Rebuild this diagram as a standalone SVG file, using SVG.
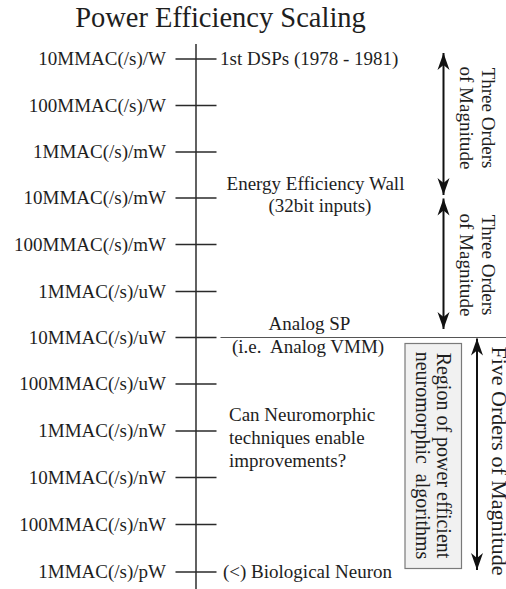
<svg xmlns="http://www.w3.org/2000/svg" width="506" height="589" viewBox="0 0 506 589">
<style>
text{font-family:"Liberation Serif","Times New Roman",serif;fill:#1e1e1e;font-size:19px}
.lab{text-anchor:end}
.tick{stroke:#2a2a2a;stroke-width:1.4}
.ax{stroke:#3a3a3a;stroke-width:1.6}
.arr{stroke:#111;stroke-width:2;marker-start:url(#ah);marker-end:url(#ah)}
</style>
<defs>
<marker id="ah" markerUnits="userSpaceOnUse" markerWidth="18" markerHeight="13" refX="17" refY="6.5" orient="auto-start-reverse">
<path d="M0,0.5 L17,6.5 L0,12.5 L5,6.5 Z" fill="#111"/>
</marker>
</defs>
<rect width="506" height="589" fill="#fff"/>
<text id="title" x="220.5" y="27" style="font-size:28.5px;text-anchor:middle">Power Efficiency Scaling</text>

<g id="connectors">
<line class="ax" x1="196" y1="44" x2="196" y2="589"/>
<line x1="220.5" y1="337.5" x2="506" y2="337.5" stroke="#555" stroke-width="1.1"/>
<line class="arr" x1="443.5" y1="53" x2="443.5" y2="195"/>
<line class="arr" x1="443.5" y1="198.5" x2="443.5" y2="329"/>
<line class="arr" x1="477" y1="338.5" x2="477" y2="570"/>
</g>

<g id="t1"><line class="tick" x1="175.5" y1="59" x2="216.5" y2="59"/><text class="lab" x="166" y="65">10MMAC(/s)/W</text></g>
<g id="t2"><line class="tick" x1="175.5" y1="105.5" x2="216.5" y2="105.5"/><text class="lab" x="166" y="111.5">100MMAC(/s)/W</text></g>
<g id="t3"><line class="tick" x1="175.5" y1="152" x2="216.5" y2="152"/><text class="lab" x="166" y="158">1MMAC(/s)/mW</text></g>
<g id="t4"><line class="tick" x1="175.5" y1="198" x2="216.5" y2="198"/><text class="lab" x="166" y="204">10MMAC(/s)/mW</text></g>
<g id="t5"><line class="tick" x1="175.5" y1="244.5" x2="216.5" y2="244.5"/><text class="lab" x="166" y="250.5">100MMAC(/s)/mW</text></g>
<g id="t6"><line class="tick" x1="175.5" y1="291.5" x2="216.5" y2="291.5"/><text class="lab" x="166" y="297.5">1MMAC(/s)/uW</text></g>
<g id="t7"><line class="tick" x1="175.5" y1="337.5" x2="216.5" y2="337.5"/><text class="lab" x="166" y="343.5">10MMAC(/s)/uW</text></g>
<g id="t8"><line class="tick" x1="175.5" y1="384" x2="216.5" y2="384"/><text class="lab" x="166" y="390">100MMAC(/s)/uW</text></g>
<g id="t9"><line class="tick" x1="175.5" y1="431" x2="216.5" y2="431"/><text class="lab" x="166" y="437">1MMAC(/s)/nW</text></g>
<g id="t10"><line class="tick" x1="175.5" y1="477.5" x2="216.5" y2="477.5"/><text class="lab" x="166" y="483.5">10MMAC(/s)/nW</text></g>
<g id="t11"><line class="tick" x1="175.5" y1="524.5" x2="216.5" y2="524.5"/><text class="lab" x="166" y="530.5">100MMAC(/s)/nW</text></g>
<g id="t12"><line class="tick" x1="175.5" y1="572" x2="216.5" y2="572"/><text class="lab" x="166" y="578">1MMAC(/s)/pW</text></g>

<g id="dsp"><text x="220" y="65">1st DSPs (1978 - 1981)</text></g>
<g id="wall"><text x="315.5" y="190" text-anchor="middle">Energy Efficiency Wall</text><text x="320" y="212" text-anchor="middle">(32bit inputs)</text></g>
<g id="analog"><text x="309.5" y="330" text-anchor="middle">Analog SP</text><text x="232" y="353" xml:space="preserve">(i.e.  Analog VMM)</text></g>
<g id="neuro"><text x="229" y="420.5">Can Neuromorphic</text><text x="229" y="443.5">techniques enable</text><text x="229" y="466.5">improvements?</text></g>
<g id="bio"><text x="223" y="577.5">(&lt;) Biological Neuron</text></g>

<g id="mag1"><text transform="translate(482,118) rotate(90)" text-anchor="middle">Three Orders</text><text transform="translate(460,118) rotate(90)" text-anchor="middle">of Magnitude</text></g>
<g id="mag2"><text transform="translate(482,265) rotate(90)" text-anchor="middle">Three Orders</text><text transform="translate(460,265) rotate(90)" text-anchor="middle">of Magnitude</text></g>
<g id="region"><rect x="405" y="343.5" width="56.5" height="225" fill="#f1f1f1" stroke="#7a7a7a" stroke-width="1.2"/><text transform="translate(437,455.5) rotate(90)" text-anchor="middle" style="font-size:20px">Region of power efficient</text><text transform="translate(415.5,455.5) rotate(90)" text-anchor="middle" style="font-size:20px" xml:space="preserve">neuromorphic  algorithms</text></g>
<g id="mag5"><text transform="translate(492,461) rotate(90)" text-anchor="middle" style="font-size:22px">Five Orders of Magnitude</text></g>
</svg>
